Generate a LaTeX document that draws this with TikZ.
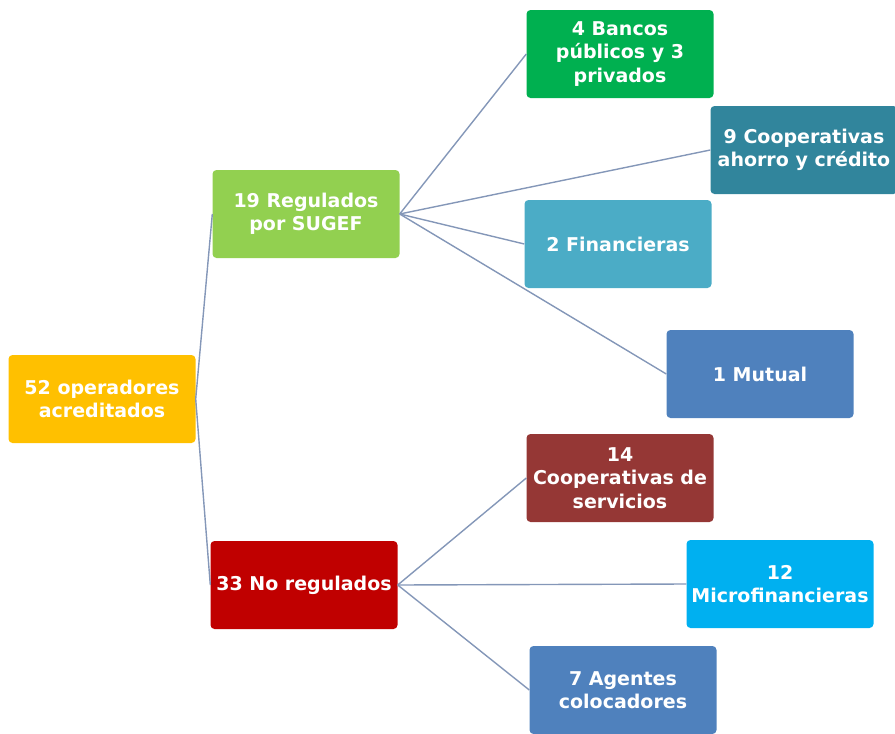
\documentclass[tikz,border=0pt]{standalone}
\usepackage{fontspec}
\setmainfont{DejaVu Sans}
\begin{document}
\begin{tikzpicture}[x=1pt,y=-1pt,
  box/.style={rounded corners=4pt, minimum width=187pt, minimum height=88pt,
    inner sep=0pt, align=center, text=white, font=\bfseries\fontsize{19}{23.5}\selectfont},
  link/.style={draw=linkc, line width=1.4pt}]
\definecolor{linkc}{HTML}{8497B8}
\definecolor{cRoot}{HTML}{FFC000}
\definecolor{cReg}{HTML}{92D050}
\definecolor{cBan}{HTML}{00B050}
\definecolor{cCoopA}{HTML}{31859C}
\definecolor{cFin}{HTML}{4BACC6}
\definecolor{cMut}{HTML}{4F81BD}
\definecolor{cNoReg}{HTML}{C00000}
\definecolor{cCoopS}{HTML}{953735}
\definecolor{cMicro}{HTML}{00B0F0}
\definecolor{cAge}{HTML}{4F81BD}
\useasboundingbox (0,0) rectangle (895,734);
\node[box, fill=cRoot] (root) at (102,399) {52 operadores\\acreditados};
\node[box, fill=cReg] (reg) at (306,214) {19 Regulados\\por SUGEF};
\node[box, fill=cNoReg] (noreg) at (304,585) {33 No regulados};
\node[box, fill=cBan] (ban) at (620,54) {4 Bancos\\públicos y 3\\privados};
\node[box, fill=cCoopA] (coopa) at (804,150) {9 Cooperativas\\ahorro y crédito};
\node[box, fill=cFin] (fin) at (618,244) {2 Financieras};
\node[box, fill=cMut] (mut) at (760,374) {1 Mutual};
\node[box, fill=cCoopS] (coops) at (620,478) {14\\Cooperativas de\\servicios};
\node[box, fill=cMicro] (micro) at (780,584) {12\\Microfinancieras};
\node[box, fill=cAge] (age) at (623,690) {7 Agentes\\colocadores};
\draw[link] (root.east) -- (reg.west);
\draw[link] (root.east) -- (noreg.west);
\draw[link] (reg.east) -- (ban.west);
\draw[link] (reg.east) -- (coopa.west);
\draw[link] (reg.east) -- (fin.west);
\draw[link] (reg.east) -- (mut.west);
\draw[link] (noreg.east) -- (coops.west);
\draw[link] (noreg.east) -- (micro.west);
\draw[link] (noreg.east) -- (age.west);
\end{tikzpicture}
\end{document}
